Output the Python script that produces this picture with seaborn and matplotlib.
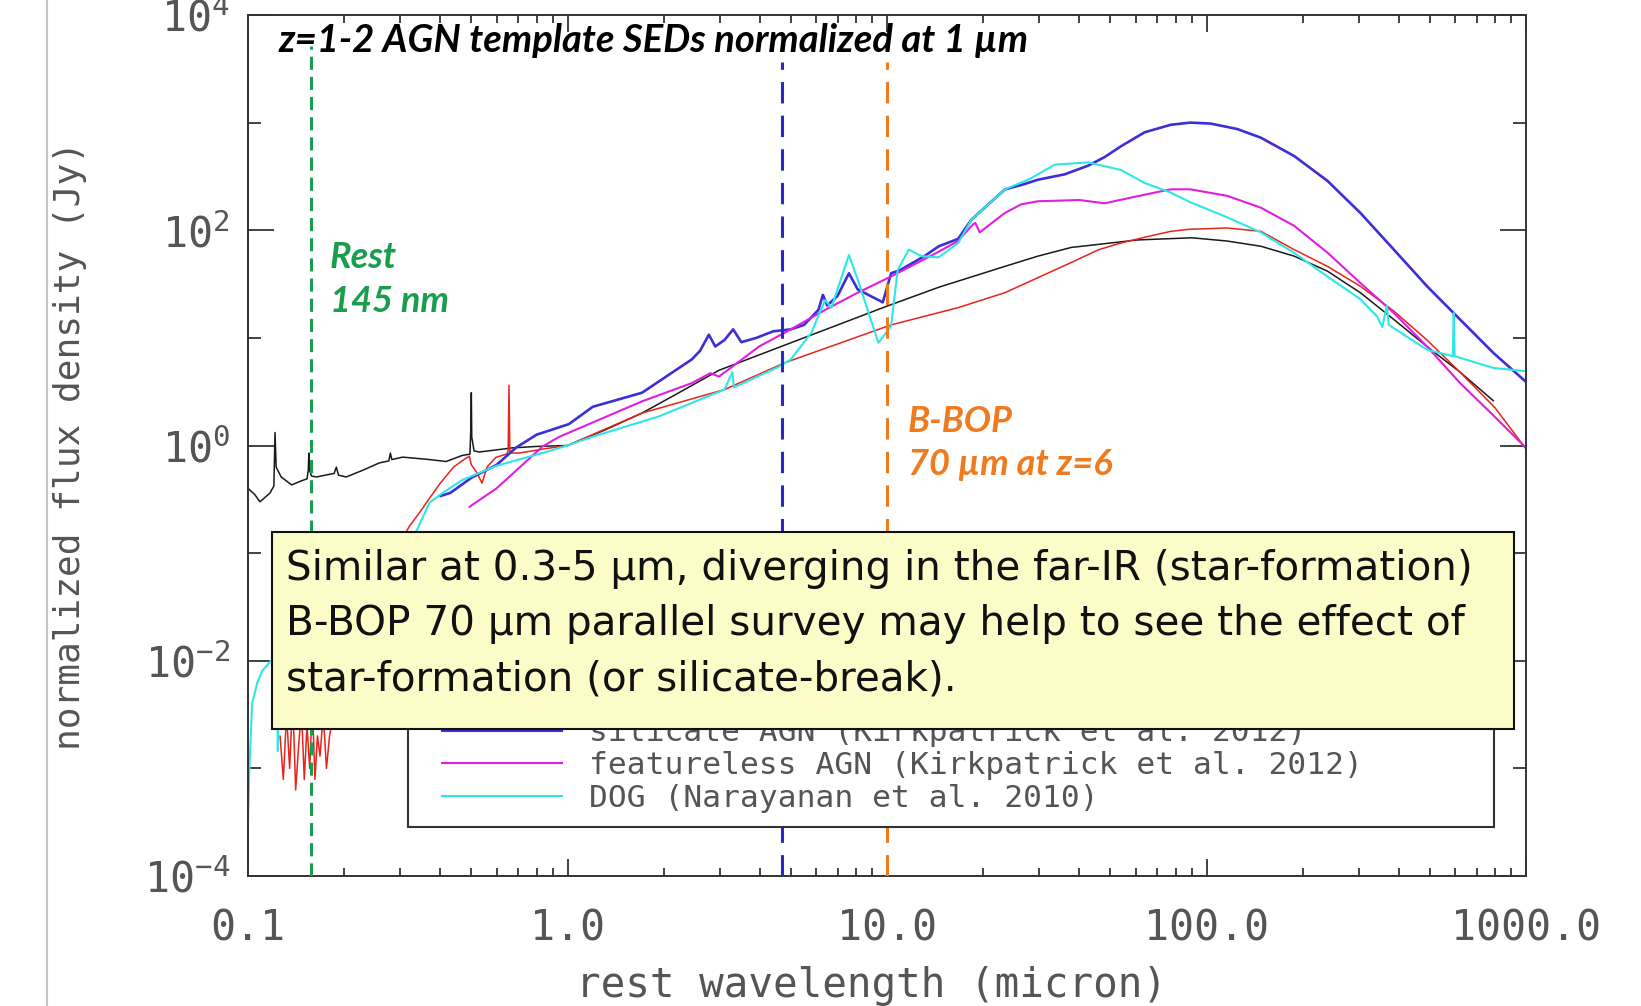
import numpy as np
import pandas as pd
import matplotlib
matplotlib.use("Agg")
import matplotlib.pyplot as plt
import seaborn as sns
from matplotlib.ticker import FixedLocator, FixedFormatter, LogLocator, NullFormatter
from matplotlib.patches import Rectangle
from matplotlib.lines import Line2D

# ---------------- data ----------------
# black template
bk_wl = [0.100, 0.105, 0.109, 0.117, 0.1205, 0.1215, 0.1225, 0.127, 0.137, 0.147, 0.153,
         0.1545, 0.155, 0.1555, 0.158, 0.164, 0.180, 0.186, 0.189, 0.192, 0.203, 0.229,
         0.258, 0.276, 0.279, 0.282, 0.305, 0.370, 0.417, 0.469, 0.495, 0.4985, 0.500,
         0.5015, 0.510, 0.530, 0.598, 0.672, 0.80, 1.0, 1.3, 1.71, 2.2, 2.98, 5.0, 9.9,
         14.5, 23.4, 29.7, 37.7, 61.0, 90.0, 116.0, 148.0, 188.0, 239.0, 303.0, 386.0,
         490.0, 622.0, 791.0]
bk_fx = [0.40, 0.35, 0.30, 0.36, 0.42, 1.32, 0.63, 0.51, 0.43, 0.47, 0.49,
         0.60, 0.85, 0.60, 0.52, 0.51, 0.54, 0.55, 0.63, 0.53, 0.51, 0.59,
         0.69, 0.72, 0.85, 0.74, 0.78, 0.74, 0.71, 0.81, 0.83, 1.50, 3.09,
         1.20, 0.89, 0.87, 0.91, 0.95, 0.98, 1.00, 1.38, 2.00, 3.02, 5.0, 9.0, 19.5,
         29.5, 46.2, 57.5, 69.2, 81.3, 85.1, 79.4, 71.0, 57.5, 41.7, 26.3, 14.8,
         8.3, 4.8, 2.6]

# red template
rd_wl = [0.126, 0.129, 0.132, 0.135, 0.138, 0.141, 0.144, 0.147, 0.150, 0.153,
         0.156, 0.159, 0.162, 0.165, 0.168, 0.172, 0.176, 0.180, 0.185,
         0.20, 0.23, 0.27, 0.30, 0.32, 0.345, 0.37, 0.40, 0.44, 0.48,
         0.493, 0.50, 0.52, 0.54, 0.56, 0.597, 0.645, 0.652, 0.656, 0.660,
         0.667, 0.707, 0.85, 1.0, 1.71, 3.1, 4.8, 10.3, 16.7,
         23.4, 29.7, 37.7, 46.0, 53.7, 65.0, 77.3, 88.0, 116, 148, 188, 239, 303,
         386, 490, 622, 800, 1000]
rd_fx = [0.0020, 0.00079, 0.0032, 0.0010, 0.0045, 0.00063, 0.0016, 0.0035, 0.00079, 0.0025,
         0.0010, 0.0040, 0.00079, 0.0020, 0.0013, 0.0032, 0.0010, 0.0020, 0.0032,
         0.0063, 0.025, 0.079, 0.126, 0.178, 0.240, 0.324, 0.447, 0.631, 0.759,
         0.794, 0.661, 0.562, 0.447, 0.631, 0.776, 0.832, 0.891, 3.63, 0.891,
         0.851, 0.851, 0.933, 1.0, 2.0, 3.31, 5.89, 13.2, 19.1,
         26.3, 36.3, 50.1, 66.0, 75.9, 87.0, 97.7, 102.0, 105.0, 97.7, 66.1, 46.2, 30.2,
         17.7, 9.55, 4.79, 2.24, 0.93]

# silicate AGN
bl_wl = [0.40, 0.43, 0.50, 0.60, 0.69, 0.80, 1.01, 1.20, 1.71, 2.45, 2.6, 2.77, 2.9, 3.1,
         3.3, 3.5, 3.9, 4.4, 5.0, 5.5, 6.1, 6.3, 6.5, 7.0, 7.6, 8.1, 9.0, 9.7, 10.3, 11.0,
         13.1, 14.5, 16.7, 18.4, 23.4, 26.3, 29.7, 36.0, 42.6, 48.0, 54.0, 64.0, 77.3, 89.0,
         103, 125, 148, 188, 239, 303, 386, 490, 622, 791, 1000]
bl_fx = [0.339, 0.363, 0.501, 0.661, 0.955, 1.26, 1.58, 2.29, 3.09, 6.31, 7.59, 10.7, 8.32,
         9.55, 12.0, 9.12, 10.0, 11.5, 12.0, 13.2, 18.2, 25.1, 20.0, 24.5, 39.8, 28.2, 24.0,
         21.4, 39.8, 42.7, 57.5, 70.8, 83.2, 126, 240, 263, 295, 331, 398, 479, 603, 813, 955,
         1000, 980, 871, 724, 490, 288, 145, 66.0, 30.2, 14.8, 7.24, 3.9]

# featureless AGN
mg_wl = [0.493, 0.60, 0.835, 0.94, 1.71, 2.45, 2.8, 2.98, 3.98, 5.0, 6.4, 8.1, 10.3, 14.5,
         16.7, 18.4, 18.9, 19.5, 23.4, 26.3, 29.7, 40.0, 48.0, 64.0, 77.3, 89.0, 116, 148,
         188, 239, 303, 386, 490, 622, 791, 1000]
mg_fx = [0.269, 0.40, 0.977, 1.20, 2.57, 3.80, 4.7, 4.37, 8.32, 12.0, 18.2, 26.3, 37.2, 63.1,
         79.4, 110, 117, 95.5, 145, 174, 186, 191, 178, 214, 240, 240, 209, 162,
         110, 62.0, 32.4, 17.0, 8.32, 3.8, 1.9, 0.95]

# DOG
cy_wl = [0.100, 0.101, 0.103, 0.107, 0.111, 0.118, 0.122, 0.1235, 0.124, 0.1245,
         0.126, 0.15, 0.20, 0.25, 0.30, 0.336, 0.370, 0.407, 0.469, 0.598,
         0.857, 1.0, 1.19, 1.93, 3.1, 3.28, 3.32, 4.57, 5.0, 5.8,
         6.4, 6.7, 7.6, 8.1, 9.4, 10.3, 10.8, 11.7, 12.8, 14.5,
         16.7, 18.4, 23.4, 28.0, 33.5, 42.6, 54.0, 64.0, 77.3, 89.0, 116, 148, 188, 239, 303,
         342, 355, 367, 372, 490, 590, 594, 598, 791, 1000]
cy_fx = [0.00032, 0.0010, 0.0040, 0.0063, 0.0081, 0.010, 0.010, 0.0032, 0.00145, 0.0032,
         0.010, 0.0126, 0.020, 0.040, 0.089, 0.158, 0.295, 0.363, 0.479, 0.646,
         0.871, 1.0, 1.20, 1.86, 3.31, 4.79, 3.47, 5.37, 6.31, 11.2,
         22.4, 19.1, 58.9, 34.7, 9.0, 12.9, 42.7, 66.1, 57.5, 56.0,
         75.9, 126, 240, 300, 407, 427, 363, 275, 224, 182, 132, 95.5, 61.7, 37.2, 22.9,
         15.8, 12.6, 20.0, 13.2, 7.76, 6.76, 17.0, 6.76, 5.25, 4.90]

legend_labels = ["silicate AGN (Kirkpatrick et al. 2012)",
                 "featureless AGN (Kirkpatrick et al. 2012)",
                 "DOG (Narayanan et al. 2010)"]

marker_wl = [0.158, 4.7, 10.0]   # green, blue, orange dashed lines

x_ticks = [0.1, 1, 10, 100, 1000]
x_ticklabels = ["0.1", "1.0", "10.0", "100.0", "1000.0"]
y_ticks = [1e-4, 1e-2, 1e0, 1e2, 1e4]
y_ticklabels = [r"$10^{-4}$", r"$10^{-2}$", r"$10^{0}$", r"$10^{2}$", r"$10^{4}$"]
y_minor = [1e-3, 1e-1, 1e1, 1e3]

# ---------------- figure ----------------
sns.set_theme(style="ticks")
plt.rcParams['font.family'] = ['DejaVu Sans Mono', 'DejaVu Sans']
plt.rcParams['mathtext.fontset'] = 'custom'
plt.rcParams['mathtext.rm'] = 'DejaVu Sans Mono'
plt.rcParams['mathtext.it'] = 'DejaVu Sans Mono'
plt.rcParams['mathtext.bf'] = 'DejaVu Sans Mono'

W, H = 1641, 1006
fig = plt.figure(figsize=(W / 100, H / 100), dpi=100)
fig.patch.set_facecolor('white')
L, R, T, B = 248, 1526, 15, 876
ax = fig.add_axes([L / W, 1 - B / H, (R - L) / W, (B - T) / H])
ax.set_facecolor('white')
ax.set_xscale('log')
ax.set_yscale('log')

series = [
    ("black", bk_wl, bk_fx, '#1a1a1a', 1.1),
    ("red", rd_wl, rd_fx, '#e8231a', 1.1),
    ("silicate", bl_wl, bl_fx, '#3c2fd6', 1.9),
    ("featureless", mg_wl, mg_fx, '#e01ee0', 1.5),
    ("DOG", cy_wl, cy_fx, '#2ee6e6', 1.5),
]
for name, wl, fx, col, lw in series:
    df = pd.DataFrame({"wavelength": wl, "flux": fx})
    sns.lineplot(data=df, x="wavelength", y="flux", color=col, linewidth=lw,
                 sort=False, estimator=None, ax=ax, legend=False)

# dashed marker lines
ax.axvline(marker_wl[0], ymin=0, ymax=0.964, color='#1a9e4e', lw=2.2, dashes=(4.3, 2.3), zorder=3)
ax.axvline(marker_wl[1], ymin=0, ymax=0.945, color='#2828c8', lw=2.2, dashes=(7.0, 4.0), zorder=3)
ax.axvline(marker_wl[2], ymin=0, ymax=0.945, color='#f07a1e', lw=2.2, dashes=(7.0, 4.0), zorder=3)

ax.set_xlim(0.1, 1000)
ax.set_ylim(1e-4, 1e4)

# ticks
ax.xaxis.set_major_locator(FixedLocator(x_ticks))
ax.xaxis.set_major_formatter(FixedFormatter(x_ticklabels))
ax.xaxis.set_minor_locator(LogLocator(base=10, subs=np.arange(2, 10)))
ax.xaxis.set_minor_formatter(NullFormatter())
ax.yaxis.set_major_locator(FixedLocator(y_ticks))
ax.yaxis.set_major_formatter(FixedFormatter(y_ticklabels))
ax.yaxis.set_minor_locator(FixedLocator(y_minor))
ax.yaxis.set_minor_formatter(NullFormatter())

ax.tick_params(axis='both', which='both', direction='in', top=True, right=True,
               color='#333333', width=1.3, labelcolor='#555555', labelsize=30)
ax.tick_params(axis='x', which='major', length=12, pad=23)
ax.tick_params(axis='x', which='minor', length=6)
ax.tick_params(axis='y', which='major', length=18.5, pad=13)
ax.tick_params(axis='y', which='minor', length=9.5)
for sp in ax.spines.values():
    sp.set_color('#333333')
    sp.set_linewidth(1.4)

ax.set_xlabel("rest wavelength (micron)", fontsize=29.5, color='#555555')
ax.set_ylabel("normalized flux density (Jy)", fontsize=26, color='#555555')
ax.xaxis.set_label_coords(0.4875, -0.104)
ax.yaxis.set_label_coords(-0.126, 0.5)

# legend (lower part visible under the yellow box)
fs_leg = 22.5
handles = [Line2D([], [], color=series[i][3], lw=1.5, linestyle=(58.6, (58.6, 9.1)))
           for i in (2, 3, 4)]
leg = ax.legend(handles, legend_labels, loc='lower left',
                bbox_to_anchor=(408 / W, 1 - 827 / H, (1494 - 408) / W, 0.0),
                bbox_transform=fig.transFigure, mode='expand', frameon=True,
                fancybox=False, framealpha=1, edgecolor='#333333', facecolor='white',
                prop={'family': 'DejaVu Sans Mono', 'size': fs_leg}, labelcolor='#555555',
                handlelength=4.5, handletextpad=0.83, borderpad=0.45,
                labelspacing=0.12, borderaxespad=0)
leg.get_frame().set_linewidth(1.5)

# in-plot annotations
ann_font = ['Lato', 'DejaVu Sans']
ann_size = 26
ax.text((278 - L) / (R - L), 1 - (41 - T) / (B - T), "z=1-2 AGN template SEDs normalized at 1 µm",
        transform=ax.transAxes, ha='left', va='center', fontsize=27.5, fontweight='bold',
        fontstyle='italic', family=ann_font, color='black', zorder=6)
ax.text((330 - L) / (R - L), 1 - (257 - T) / (B - T), "Rest", transform=ax.transAxes,
        ha='left', va='center', fontsize=ann_size, fontweight='bold', fontstyle='italic',
        family=ann_font, color='#1a9e4e', zorder=6)
ax.text((330 - L) / (R - L), 1 - (302 - T) / (B - T), "145 nm", transform=ax.transAxes,
        ha='left', va='center', fontsize=ann_size, fontweight='bold', fontstyle='italic',
        family=ann_font, color='#1a9e4e', zorder=6)
ax.text((908 - L) / (R - L), 1 - (422 - T) / (B - T), "B-BOP", transform=ax.transAxes,
        ha='left', va='center', fontsize=ann_size, fontweight='bold', fontstyle='italic',
        family=ann_font, color='#f07a1e', zorder=6)
ax.text((908 - L) / (R - L), 1 - (464 - T) / (B - T), "70 µm at z=6", transform=ax.transAxes,
        ha='left', va='center', fontsize=ann_size, fontweight='bold', fontstyle='italic',
        family=ann_font, color='#f07a1e', zorder=6)

# yellow call-out box on top of everything
box = Rectangle((272 / W, 1 - 729 / H), (1514 - 272) / W, (729 - 532) / H,
                transform=fig.transFigure, facecolor='#fcfcc8', edgecolor='#111111',
                linewidth=1.5, zorder=10)
fig.add_artist(box)
box_lines = ["Similar at 0.3-5 µm, diverging in the far-IR (star-formation)",
             "B-BOP 70 µm parallel survey may help to see the effect of",
             "star-formation (or silicate-break)."]
for txt, yb in zip(box_lines, [580, 635, 690]):
    fig.text(286 / W, 1 - yb / H, txt, ha='left', va='baseline', fontsize=29.2,
             family=['DejaVu Sans'], color='#111111', zorder=11)

# slide artefact: thin grey vertical rule at the left
fig.add_artist(Line2D([47 / W, 47 / W], [0, 1], transform=fig.transFigure,
                      color='#c4c4c4', lw=1.5, zorder=1))

fig.savefig("out.png", dpi=100, facecolor='white')
